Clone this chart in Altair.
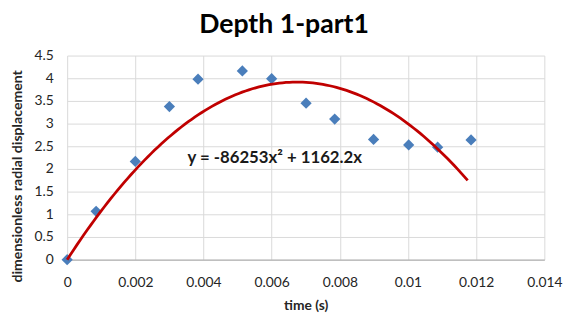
import altair as alt
import pandas as pd

# Data
time_s = [0.0, 0.00085, 0.0020, 0.0030, 0.00384, 0.00514, 0.0060, 0.00701,
          0.00785, 0.00899, 0.01002, 0.01087, 0.01185]
disp = [0.0, 1.065, 2.165, 3.376, 3.98, 4.16, 3.99, 3.45, 3.10, 2.65, 2.53, 2.48, 2.64]

# Trendline coefficients as shown in the chart: y = a*x^2 + b*x
coef_a = -86253
coef_b = 1162.2
trend_label = ["y = -86253x² + 1162.2x"]
label_x = [0.00609]
label_y = [2.25]

x_ticks = [0, 0.002, 0.004, 0.006, 0.008, 0.01, 0.012, 0.014]
y_ticks = [0, 0.5, 1, 1.5, 2, 2.5, 3, 3.5, 4, 4.5]

FONT = "Lato"
df = pd.DataFrame({"t": time_s, "d": disp})
ldf = pd.DataFrame({"t": label_x, "d": label_y, "txt": trend_label})

xscale = alt.Scale(domain=[0, 0.014], nice=False, zero=False)
yscale = alt.Scale(domain=[0, 4.5], nice=False, zero=False)

xaxis = alt.Axis(values=x_ticks, format="~g", title="time (s)", grid=True,
                 gridColor="#d9d9d9", domainColor="#a6a6a6", ticks=False,
                 labelOverlap=False, labelFlush=False,
                 labelPadding=16, labelFontSize=14, labelColor="#262626",
                 labelFont=FONT, titleFont=FONT, titleFontSize=14,
                 titleFontWeight="bold", titleColor="#262626",
                 titleX=242, titleY=47, titleAlign="center", titleBaseline="middle")
yaxis = alt.Axis(values=y_ticks, format="~g", title="dimensionless radial displacement",
                 grid=True, gridColor="#d9d9d9", domain=False, ticks=False,
                 labelOverlap=False, labelFlush=False,
                 labelPadding=14, labelFontSize=14, labelColor="#262626",
                 labelFont=FONT, titleFont=FONT, titleFontSize=14.3,
                 titleFontWeight="bold", titleColor="#262626",
                 titleX=-50, titleY=122, titleAngle=270, titleAlign="center",
                 titleBaseline="middle")

X = alt.X("t:Q", scale=xscale, axis=xaxis)
Y = alt.Y("d:Q", scale=yscale, axis=yaxis)

points = alt.Chart(df).mark_point(shape="diamond", filled=True, size=130,
                                  color="#4a7ebb", opacity=1).encode(x=X, y=Y)

trend = alt.Chart(df).transform_aggregate(
    tmax="max(t)"
).transform_calculate(
    n="sequence(0, 120)"
).transform_flatten(["n"]).transform_calculate(
    tx="datum.n / 120 * datum.tmax"
).transform_calculate(
    t="datum.tx",
    d=f"{coef_a} * datum.tx * datum.tx + {coef_b} * datum.tx",
).mark_line(color="#c00000", strokeWidth=2.8).encode(x=X, y=Y)

label = alt.Chart(ldf).mark_text(font=FONT, fontSize=17, fontWeight="bold",
                                 color="#1a1a1a").encode(x=X, y=Y, text="txt:N")

chart = alt.layer(points, trend, label).properties(
    width=484, height=207,
    padding={"left": 60, "top": 46, "right": 23, "bottom": 61},
    autosize=alt.AutoSizeParams(type="none"),
    title=alt.TitleParams("Depth 1-part1", font=FONT, fontSize=27,
                          fontWeight="bold", color="#000000", anchor="middle",
                          dx=-22, offset=10),
).configure_view(stroke=None)

chart.save("out.html", embed_options={"renderer": "svg", "actions": False})
